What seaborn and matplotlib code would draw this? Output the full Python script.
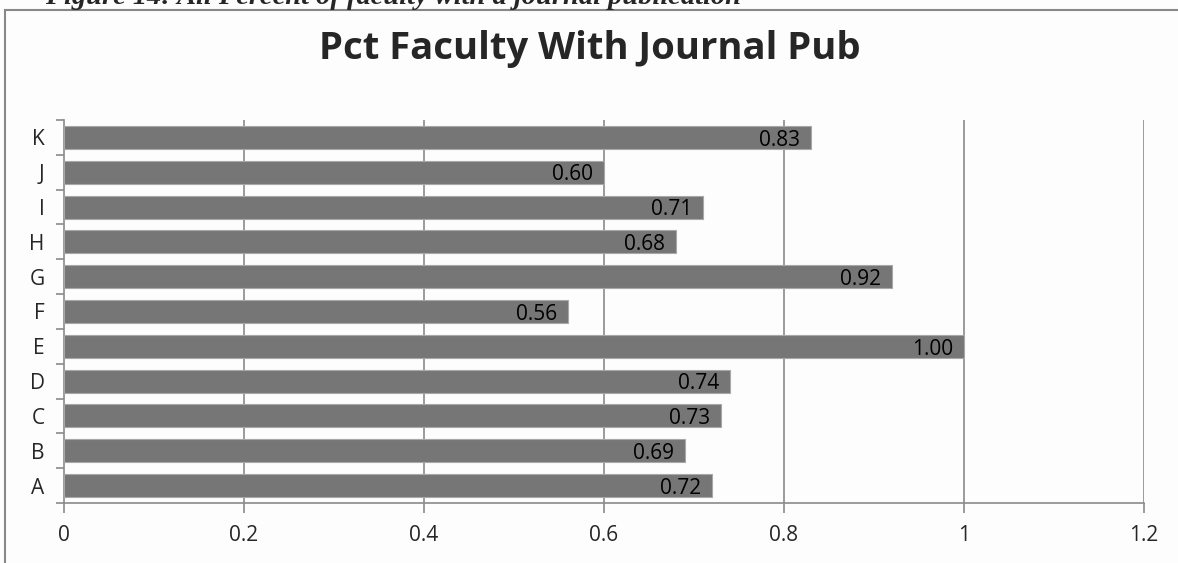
import matplotlib
matplotlib.use("Agg")
import matplotlib.pyplot as plt
import seaborn as sns
import pandas as pd
from matplotlib.patches import Rectangle
from matplotlib.ticker import FixedLocator

# data (top to bottom)
SCHOOLS = ["K", "J", "I", "H", "G", "F", "E", "D", "C", "B", "A"]
PCT_PUB = [0.83, 0.60, 0.71, 0.68, 0.92, 0.56, 1.00, 0.74, 0.73, 0.69, 0.72]
X_TICKS = [0, 0.2, 0.4, 0.6, 0.8, 1.0, 1.2]
X_LABELS = ["0", "0.2", "0.4", "0.6", "0.8", "1", "1.2"]

TITLE   = "Pct Faculty With Journal Pub"
CAPTION = "Figure 14: All Percent of faculty with a journal publication"

BAR   = "#767676"
GRID  = "#8a8a8a"
BG    = "#fdfdfd"
FS    = 15

sns.set_theme(style="white")
plt.rcParams["font.family"] = ["Open Sans", "DejaVu Sans"]

df = pd.DataFrame({"school": SCHOOLS, "pct": PCT_PUB})

fig = plt.figure(figsize=(11.78, 5.63), dpi=100, facecolor=BG)
ax = fig.add_axes([0.0543, 0.1066, 0.9168, 0.6803])
ax.set_facecolor(BG)

sns.barplot(data=df, x="pct", y="school", order=SCHOOLS, color=BAR,
            saturation=1, width=0.66, edgecolor="#a8a8a8", linewidth=0.8,
            ax=ax, zorder=3)

ax.set_xlim(0, 1.2)
ax.set_ylim(len(SCHOOLS) - 0.5, -0.5)
ax.set_xticks(X_TICKS)
ax.set_xticklabels(X_LABELS, fontsize=FS)
ax.set_xlabel("")
ax.set_ylabel("")
ax.tick_params(axis="y", labelsize=FS, length=0, pad=14)
ax.yaxis.set_minor_locator(FixedLocator([i - 0.5 for i in range(len(SCHOOLS) + 1)]))
ax.tick_params(axis="y", which="minor", left=True, length=6, width=1.2, color=GRID)
ax.tick_params(axis="x", bottom=True, length=7, width=1.2, color=GRID, pad=9)

for x in X_TICKS[1:]:
    ax.axvline(x, color=GRID, lw=1.2, zorder=1)

for s in ("top", "right"):
    ax.spines[s].set_visible(False)
for s in ("left", "bottom"):
    ax.spines[s].set_color(GRID)
    ax.spines[s].set_linewidth(1.2)

# value labels at the inside end of each bar
for i, v in enumerate(PCT_PUB):
    ax.text(v - 0.012, i + 0.08, f"{v:.2f}", ha="right", va="center",
            fontsize=FS, color="black", zorder=4)

fig.text(0.501, 1 - 49 / 563, TITLE, ha="center", va="center",
         fontsize=27.5, fontweight="bold")

# caption above the chart frame, cut off at the top as in the source
fig.text(0.038, 1 - 4 / 563, CAPTION, ha="left", va="baseline",
         fontsize=20.5, fontweight="bold", fontstyle="italic",
         family=["Liberation Serif", "DejaVu Serif"])

# chart frame
fig.patches.append(Rectangle((5 / 1178, -0.1), 1.2, 1 - 10 / 563 + 0.1,
                             transform=fig.transFigure, fill=False,
                             edgecolor="#888888", lw=1.5))

fig.savefig("out.png", dpi=100, facecolor=BG)
